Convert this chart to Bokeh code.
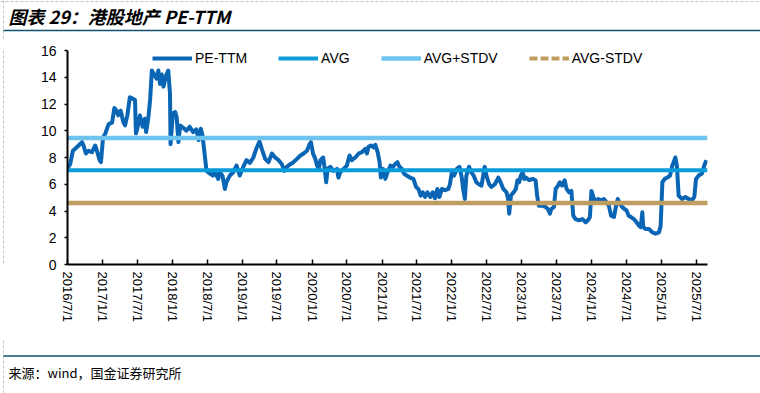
import math
import pandas as pd
from bokeh.plotting import figure
from bokeh.layouts import column, row
from bokeh.models import FixedTicker, Legend, LegendItem, Range1d
from bokeh.core.properties import value
from bokeh.embed import file_html
from bokeh.resources import INLINE

# ---------------- data ----------------
dates = [
    "2016-07-01", "2016-07-15", "2016-07-29", "2016-08-10", "2016-08-28", "2016-09-15", "2016-09-23",
    "2016-10-05", "2016-10-19", "2016-11-06", "2016-11-23", "2016-12-02", "2016-12-16", "2016-12-23",
    "2017-01-03", "2017-01-15", "2017-02-01", "2017-02-19", "2017-03-03", "2017-03-15", "2017-03-23",
    "2017-04-05", "2017-04-19", "2017-04-28", "2017-05-10", "2017-05-23", "2017-06-07", "2017-06-19",
    "2017-06-24", "2017-07-01", "2017-07-15", "2017-07-29", "2017-08-10", "2017-08-16", "2017-08-28",
    "2017-09-06", "2017-09-15", "2017-09-27", "2017-10-10", "2017-10-19", "2017-10-28", "2017-11-06",
    "2017-11-15", "2017-11-28", "2017-12-10", "2017-12-19", "2017-12-22", "2018-01-03", "2018-01-15",
    "2018-01-23", "2018-02-01", "2018-02-10", "2018-02-28", "2018-03-15", "2018-04-01", "2018-04-19",
    "2018-05-06", "2018-05-18", "2018-05-29", "2018-06-07", "2018-06-19", "2018-06-28", "2018-07-15",
    "2018-08-01", "2018-08-10", "2018-08-28", "2018-09-06", "2018-09-20", "2018-10-02", "2018-10-10",
    "2018-10-28", "2018-11-15", "2018-12-02", "2018-12-19", "2019-01-06", "2019-01-23", "2019-02-10",
    "2019-02-28", "2019-03-15", "2019-04-01", "2019-04-13", "2019-05-01", "2019-05-18", "2019-06-05",
    "2019-06-22", "2019-07-10", "2019-07-27", "2019-08-08", "2019-08-22", "2019-09-09", "2019-09-26",
    "2019-10-14", "2019-11-01", "2019-11-18", "2019-12-05", "2019-12-19", "2019-12-26", "2020-01-06",
    "2020-01-18", "2020-01-27", "2020-02-05", "2020-02-14", "2020-02-28", "2020-03-05", "2020-03-15",
    "2020-03-22", "2020-04-05", "2020-04-22", "2020-05-10", "2020-05-18", "2020-05-27", "2020-06-14",
    "2020-07-01", "2020-07-15", "2020-07-27", "2020-08-14", "2020-09-01", "2020-09-18", "2020-10-05",
    "2020-10-14", "2020-10-22", "2020-11-04", "2020-11-18", "2020-11-27", "2020-12-09", "2020-12-19",
    "2020-12-26", "2021-01-06", "2021-01-18", "2021-01-30", "2021-02-14", "2021-02-28", "2021-03-10",
    "2021-03-22", "2021-04-02", "2021-04-14", "2021-04-26", "2021-05-10", "2021-05-27", "2021-06-14",
    "2021-06-28", "2021-07-10", "2021-07-22", "2021-08-02", "2021-08-14", "2021-08-26", "2021-09-10",
    "2021-09-23", "2021-10-05", "2021-10-17", "2021-10-28", "2021-11-10", "2021-11-27", "2021-12-14",
    "2021-12-22", "2022-01-01", "2022-01-13", "2022-01-27", "2022-02-10", "2022-02-22", "2022-03-01",
    "2022-03-10", "2022-03-18", "2022-04-01", "2022-04-13", "2022-04-25", "2022-05-09", "2022-05-22",
    "2022-06-05", "2022-06-14", "2022-06-22", "2022-07-01", "2022-07-15", "2022-07-27", "2022-08-14",
    "2022-09-01", "2022-09-13", "2022-09-27", "2022-10-14", "2022-10-22", "2022-10-28", "2022-11-06",
    "2022-11-20", "2022-12-02", "2022-12-10", "2022-12-19", "2022-12-28", "2023-01-06", "2023-01-15",
    "2023-01-23", "2023-02-10", "2023-02-28", "2023-03-15", "2023-03-23", "2023-04-01", "2023-04-19",
    "2023-05-06", "2023-05-18", "2023-05-29", "2023-06-05", "2023-06-19", "2023-06-28", "2023-07-10",
    "2023-07-20", "2023-08-01", "2023-08-14", "2023-08-24", "2023-09-06", "2023-09-18", "2023-09-28",
    "2023-10-10", "2023-10-28", "2023-11-15", "2023-12-02", "2023-12-14", "2023-12-24", "2024-01-01",
    "2024-01-11", "2024-01-23", "2024-02-05", "2024-02-19", "2024-03-06", "2024-03-20", "2024-04-01",
    "2024-04-13", "2024-04-28", "2024-05-11", "2024-05-18", "2024-05-28", "2024-06-10", "2024-06-22",
    "2024-07-02", "2024-07-14", "2024-07-26", "2024-08-10", "2024-08-24", "2024-09-06", "2024-09-15",
    "2024-09-23", "2024-09-28", "2024-10-10", "2024-10-28", "2024-11-15", "2024-12-02", "2024-12-19",
    "2024-12-28", "2025-01-06", "2025-01-18", "2025-02-01", "2025-02-15", "2025-02-27", "2025-03-06",
    "2025-03-15", "2025-03-23", "2025-04-01", "2025-04-19", "2025-05-06", "2025-05-23", "2025-06-10",
    "2025-06-22", "2025-07-01", "2025-07-15", "2025-08-01", "2025-08-13", "2025-08-24",
]
pe_ttm = [
    7.2, 7.5, 8.5, 8.65, 8.9, 9.15, 8.9,
    8.3, 8.5, 8.4, 8.9, 8.5, 7.8, 7.65,
    9.5, 9.8, 10.5, 10.6, 11.7, 11.5, 11.15,
    11.5, 10.65, 10.4, 11.15, 12.5, 12.4, 12.3,
    9.8, 10.15, 11.15, 10.3, 10.9, 9.9, 11.0,
    12.3, 14.5, 14.2, 13.9, 14.5, 13.5, 14.2,
    13.3, 14.1, 14.5, 12.8, 9.0, 11.3, 11.4,
    11.0, 9.15, 10.4, 10.2, 10.0, 10.3, 9.9,
    10.1, 9.3, 10.15, 9.65, 8.15, 7.0, 6.8,
    6.65, 7.0, 6.4, 6.9, 6.6, 5.65, 6.15,
    6.65, 6.9, 7.4, 6.65, 7.3, 7.8, 7.6,
    8.0, 8.65, 9.2, 8.65, 7.9, 7.65, 8.3,
    8.0, 7.8, 7.5, 7.0, 7.3, 7.5, 7.65,
    7.9, 8.15, 8.3, 8.5, 9.0, 9.15, 8.3,
    7.9, 7.4, 7.15, 7.8, 8.0, 7.4, 6.15,
    7.15, 7.3, 7.0, 7.15, 6.5, 6.9, 7.15,
    7.4, 8.15, 7.8, 8.0, 8.3, 8.4, 8.65,
    8.3, 8.8, 8.9, 8.75, 8.95, 8.4, 7.65,
    6.5, 7.15, 6.4, 6.9, 7.4, 7.3, 7.5,
    7.65, 7.3, 7.15, 6.8, 6.65, 6.5, 6.4,
    5.8, 5.65, 5.15, 5.4, 5.05, 5.4, 5.05,
    5.4, 4.95, 5.65, 5.05, 5.65, 5.55, 5.65,
    6.0, 6.9, 6.65, 7.15, 7.3, 6.5, 5.65,
    4.9, 6.65, 7.3, 6.9, 6.65, 6.15, 6.0,
    5.9, 6.65, 7.3, 6.65, 6.0, 5.8, 6.0,
    6.5, 6.15, 5.65, 5.4, 4.9, 3.8, 5.15,
    5.4, 5.65, 6.3, 6.15, 6.65, 6.9, 6.4,
    6.5, 6.3, 6.4, 6.3, 5.15, 4.4, 4.4,
    4.3, 4.15, 3.8, 4.15, 4.3, 5.65, 5.9,
    6.15, 5.9, 6.3, 5.65, 5.4, 5.5, 3.65,
    3.4, 3.3, 3.4, 3.15, 3.3, 3.55, 5.5,
    5.05, 4.65, 4.9, 4.8, 4.9, 4.65, 4.4,
    3.65, 3.55, 4.55, 4.9, 4.55, 4.3, 4.15,
    4.05, 3.65, 3.55, 3.4, 3.15, 2.9, 2.8,
    3.9, 2.8, 2.65, 2.65, 2.4, 2.3, 2.4,
    2.9, 6.15, 6.4, 6.5, 6.65, 7.4, 7.65,
    8.0, 7.4, 5.15, 4.9, 5.05, 4.9, 4.8,
    5.05, 6.4, 6.65, 6.8, 7.4, 7.8,
]
avg_value = 7.04
avg_plus_stdv = 9.45
avg_minus_stdv = 4.60

tick_dates = ["2016-07-01", "2017-01-01", "2017-07-01", "2018-01-01", "2018-07-01", "2019-01-01",
              "2019-07-01", "2020-01-01", "2020-07-01", "2021-01-01", "2021-07-01", "2022-01-01",
              "2022-07-01", "2023-01-01", "2023-07-01", "2024-01-01", "2024-07-01", "2025-01-01",
              "2025-07-01"]
tick_labels = ["2016/7/1", "2017/1/1", "2017/7/1", "2018/1/1", "2018/7/1", "2019/1/1",
               "2019/7/1", "2020/1/1", "2020/7/1", "2021/1/1", "2021/7/1", "2022/1/1",
               "2022/7/1", "2023/1/1", "2023/7/1", "2024/1/1", "2024/7/1", "2025/1/1",
               "2025/7/1"]
y_ticks = [0, 2, 4, 6, 8, 10, 12, 14, 16]
x_start, x_end = "2016-07-01", "2025-08-30"

title_text = "图表 29：港股地产 PE-TTM"
source_text = "来源：wind，国金证券研究所"

# ---------------- helpers ----------------
W = 760
DASH_C = "#C4C4C4"
RULE_C = "#11506F"


def blank_fig(w, h):
    f = figure(width=w, height=h, output_backend="svg", toolbar_location=None,
               x_range=Range1d(0, w), y_range=Range1d(h, 0),
               x_axis_location=None, y_axis_location=None,
               min_border_left=0, min_border_right=0, min_border_top=0, min_border_bottom=0,
               title=None)
    f.outline_line_color = None
    f.xgrid.visible = False
    f.ygrid.visible = False
    f.background_fill_color = "white"
    f.border_fill_color = "white"
    return f


# ---------------- top strip: title ----------------
TOP_H = 40
top = blank_fig(W, TOP_H)
top.line([0, W], [1, 1], line_color=DASH_C, line_width=1, line_dash="3 2")
top.line([3, 3], [0, TOP_H], line_color=DASH_C, line_width=1, line_dash="3 2")
top.text(x=[8], y=[15.5], text=[title_text], text_font=value("Noto Sans CJK SC"),
         text_font_size="18px", text_font_style="bold italic", text_color="black",
         text_baseline="middle", text_align="left")
top.line([3, W], [30, 30], line_color=RULE_C, line_width=1.6)

# ---------------- middle: left dashed strip + main chart ----------------
MID_H = 300
STRIP_W = 6
strip = blank_fig(STRIP_W, MID_H)
strip.line([3, 3], [0, MID_H], line_color=DASH_C, line_width=1, line_dash="3 2")

MW = W - STRIP_W
FL, FR, FT, FB = 61, 53, 10, 76
frame_h = MID_H - FT - FB

x = pd.to_datetime(dates)
xs, xe = pd.Timestamp(x_start), pd.Timestamp(x_end)

p = figure(width=MW, height=MID_H, x_axis_type="datetime", output_backend="svg",
           toolbar_location=None, x_range=Range1d(xs, xe), y_range=Range1d(0, 16),
           min_border_left=FL, min_border_right=FR, min_border_top=FT, min_border_bottom=FB,
           title=None)
p.outline_line_color = None
p.xgrid.visible = False
p.ygrid.visible = False
p.background_fill_color = "white"
p.border_fill_color = "white"

C_PE = "#0A66B5"
C_AVG = "#0A9BDB"
C_PLUS = "#6EC3EF"
C_MINUS = "#BF9D60"

r_pe = p.line(x, pe_ttm, line_color=C_PE, line_width=4, line_join="round")
hx = [xs, xe]
r_avg = p.line(hx, [avg_value, avg_value], line_color=C_AVG, line_width=4)
r_plus = p.line(hx, [avg_plus_stdv, avg_plus_stdv], line_color=C_PLUS, line_width=4.5)
r_minus_leg = p.line(hx, [avg_minus_stdv, avg_minus_stdv], line_color=C_MINUS, line_width=4,
                     line_dash="8 3")
r_minus = p.line(hx, [avg_minus_stdv, avg_minus_stdv], line_color=C_MINUS, line_width=4.6)

ms = [int(pd.Timestamp(d).value // 10**6) for d in tick_dates]
xa = p.xaxis[0]
xa.ticker = FixedTicker(ticks=ms)
xa.major_label_overrides = {m: lab for m, lab in zip(ms, tick_labels)}
xa.major_label_orientation = -math.pi / 2
xa.major_tick_in = 5
xa.major_tick_out = 0
xa.minor_tick_line_color = None
xa.axis_line_width = 2
xa.axis_line_color = "black"
xa.major_tick_line_color = "black"
xa.major_tick_line_width = 1.5
xa.major_label_text_font = "Liberation Sans"
xa.major_label_text_font_size = "13px"
xa.major_label_text_color = "black"
xa.major_label_standoff = 7

ya = p.yaxis[0]
ya.ticker = FixedTicker(ticks=y_ticks)
ya.major_tick_in = 0
ya.major_tick_out = 3
ya.minor_tick_line_color = None
ya.axis_line_width = 2
ya.axis_line_color = "black"
ya.major_tick_line_color = "black"
ya.major_tick_line_width = 1.5
ya.major_label_text_font = "Liberation Sans"
ya.major_label_text_font_size = "14px"
ya.major_label_text_color = "black"
ya.major_label_standoff = 8

LEG_H = 16
legend = Legend(items=[
    LegendItem(label="PE-TTM", renderers=[r_pe]),
    LegendItem(label="AVG", renderers=[r_avg]),
    LegendItem(label="AVG+STDV", renderers=[r_plus]),
    LegendItem(label="AVG-STDV", renderers=[r_minus_leg]),
], orientation="horizontal", location=(85, frame_h - LEG_H),
    border_line_alpha=0, background_fill_alpha=0, padding=0, margin=0,
    spacing=31, glyph_width=40, glyph_height=LEG_H, label_height=LEG_H, label_standoff=3,
    label_text_font="Liberation Sans", label_text_font_size="14px", label_text_color="black")
p.add_layout(legend)

# ---------------- bottom strip: source ----------------
BOT_H = 393 - TOP_H - MID_H
bot = blank_fig(W, BOT_H)
bot.line([3, 3], [0, BOT_H], line_color=DASH_C, line_width=1, line_dash="3 2")
bot.line([3, W], [15.5, 15.5], line_color=RULE_C, line_width=1.6)
bot.text(x=[8], y=[31.5], text=[source_text], text_font=value("Noto Sans CJK SC"),
         text_font_size="13px", text_color="black", text_baseline="middle", text_align="left")

layout = column(top, row(strip, p, spacing=0), bot, spacing=0)
open("out.html", "w").write(file_html(layout, INLINE))
